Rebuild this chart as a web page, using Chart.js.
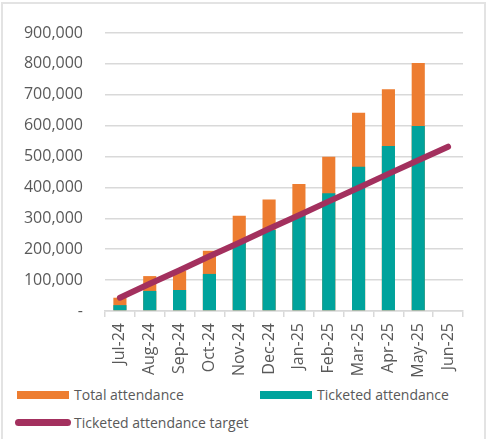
<!DOCTYPE html>
<html>
<head>
<meta charset="utf-8">
<script src="https://cdn.jsdelivr.net/npm/chart.js@4.4.1/dist/chart.umd.min.js"></script>
<style>
  body { margin: 0; background: #fff; font-family: 'Open Sans', sans-serif; }
  #wrap { position: relative; width: 488px; height: 439px; overflow: hidden; }
  #frame { position: absolute; left: 1px; top: 2px; width: 481px; height: 450px;
           border: 2px solid #e3e3e3; border-bottom: none; }
  #box { position: absolute; left: 0; top: 0; width: 488px; height: 381px; }
  .leg { position: absolute; font-size: 14px; color: #595959; line-height: 16px; }
  .sw { position: absolute; }
</style>
</head>
<body>
<div id="wrap">
  <div id="frame"></div>
  <div id="box"><canvas id="attChart"></canvas></div>
  <div class="sw" style="left:17px;top:391px;width:52px;height:8px;background:#ed7d31"></div>
  <div class="leg" style="left:74px;top:387px">Total attendance</div>
  <div class="sw" style="left:260px;top:391px;width:52px;height:8px;background:#00a39c"></div>
  <div class="leg" style="left:317px;top:387px">Ticketed attendance</div>
  <div class="sw" style="left:15px;top:419px;width:56px;height:7px;background:#a3305e;border-radius:4px"></div>
  <div class="leg" style="left:74px;top:415px">Ticketed attendance target</div>
</div>
<script>
const months = ['Jul-24', 'Aug-24', 'Sep-24', 'Oct-24', 'Nov-24', 'Dec-24', 'Jan-25', 'Feb-25', 'Mar-25', 'Apr-25', 'May-25', 'Jun-25'];
const totalAttendance = [43000, 113000, 130000, 195000, 308000, 361000, 411000, 499000, 642000, 718000, 803000, null];
const ticketedAttendance = [19000, 65000, 68000, 120000, 220000, 262000, 311000, 381000, 467000, 534000, 599000, null];
const ticketedTarget = [43000, 88000, 132000, 177000, 221000, 266000, 310000, 355000, 399000, 444000, 488000, 532000];

const ctx = document.getElementById('attChart');
const grey = '#595959';

const attChart = new Chart(ctx, {
    type: 'bar',
    data: {
        labels: months,
        datasets: [
            {
                type: 'line',
                label: 'Ticketed attendance target',
                data: ticketedTarget,
                borderColor: '#a3305e',
                borderWidth: 6,
                borderCapStyle: 'round',
                pointRadius: 0,
                order: 0
            },
            {
                label: 'Ticketed attendance',
                data: ticketedAttendance,
                backgroundColor: '#00a39c',
                grouped: false,
                barPercentage: 0.44,
                categoryPercentage: 1,
                order: 1
            },
            {
                label: 'Total attendance',
                data: totalAttendance,
                backgroundColor: '#ed7d31',
                grouped: false,
                barPercentage: 0.44,
                categoryPercentage: 1,
                order: 2
            }
        ]
    },
    options: {
        responsive: true,
        maintainAspectRatio: false,
        animation: false,
        layout: { padding: { left: 15, right: 25, top: 33, bottom: 0 } },
        plugins: {
            legend: { display: false },
            tooltip: { enabled: false }
        },
        scales: {
            x: {
                afterFit: (s) => { s.height = 70; },
                grid: {
                    offset: true,
                    drawOnChartArea: false,
                    drawTicks: true,
                    tickLength: 6,
                    color: '#d9d9d9',
                    lineWidth: 1.5
                },
                border: { color: '#d9d9d9', width: 1.5 },
                ticks: {
                    minRotation: 90,
                    maxRotation: 90,
                    padding: 6,
                    color: grey,
                    font: { family: 'Open Sans', size: 16 }
                }
            },
            y: {
                min: 0,
                max: 900000,
                afterFit: (s) => { s.width = 90; },
                border: { display: false },
                grid: { color: '#d9d9d9', lineWidth: 1.5, drawTicks: false },
                ticks: {
                    stepSize: 100000,
                    padding: 22,
                    color: grey,
                    font: { family: 'Open Sans', size: 16 },
                    callback: (v) => v === 0 ? '-' : v.toLocaleString('en-US')
                }
            }
        }
    }
});
</script>
</body>
</html>
